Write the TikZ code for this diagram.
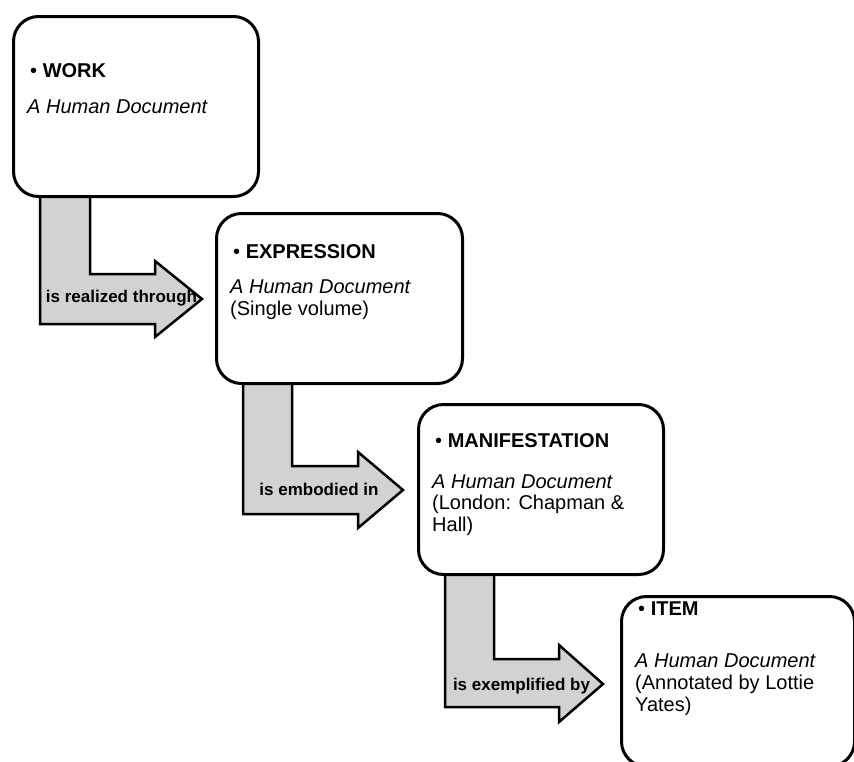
\documentclass[tikz,border=0pt]{standalone}
\usepackage{fontspec}
\setmainfont{Liberation Sans}
\definecolor{arrgray}{RGB}{210,210,210}
\begin{document}
\begin{tikzpicture}[x=1pt,y=-1pt,
  box/.style={draw=black, line width=3pt, fill=white, rounded corners=25pt,
    inner sep=0pt, anchor=north west},
  arr/.style={draw=black, line width=2.5pt, fill=arrgray, line join=miter},
  headtxt/.style={font=\fontsize{20}{23}\selectfont\bfseries, anchor=base west, inner sep=0pt},
  bodytxt/.style={font=\fontsize{20}{23}\selectfont, anchor=base west, inner sep=0pt},
  lbl/.style={font=\fontsize{17}{20}\selectfont\bfseries, anchor=base, inner sep=0pt}
]
\useasboundingbox (0,0) rectangle (854,761);
\clip (0,0) rectangle (854,761);

% tips of the bent arrows
\coordinate (t1) at (202,299);
\coordinate (t2) at (403,490);
\coordinate (t3) at (603,684);

% bent arrows (drawn first, boxes cover the stem tops)
\draw[arr] (40,185) -- (40,324) -- (155,324) -- (155,337) -- (t1)
  -- (155,261) -- (155,274) -- (90,274) -- (90,185) -- cycle;
\draw[arr] (243,372) -- (243,514) -- (358,514) -- (358,528) -- (t2)
  -- (358,452) -- (358,466) -- (292,466) -- (292,372) -- cycle;
\draw[arr] (445,563) -- (445,707) -- (559,707) -- (559,722) -- (t3)
  -- (559,645) -- (559,659) -- (494,659) -- (494,563) -- cycle;

% boxes
\node[box, minimum width=245pt, minimum height=180pt] (work) at (12,15) {};
\node[box, minimum width=246pt, minimum height=170pt] (expr) at (215,212) {};
\node[box, minimum width=245pt, minimum height=170pt] (mani) at (417,403) {};
\node[box, minimum width=233pt, minimum height=170pt] (item) at (620,595) {};

% arrow labels
\node[lbl] (l1) at (121.5,302) {is realized through};
\node[lbl] (l2) at (319,495) {is embodied in};
\node[lbl] (l3) at (521.5,690) {is exemplified by};

% WORK
\node[headtxt] (w1) at (30,77) {{\mdseries •} WORK};
\node[bodytxt] (w2) at (27,113) {\itshape A Human Document};
% EXPRESSION
\node[headtxt] (e1) at (233,258) {{\mdseries •} EXPRESSION};
\node[bodytxt] (e2) at (230,293) {\itshape A Human Document};
\node[bodytxt] (e3) at (230,315) {(Single volume)};
% MANIFESTATION
\node[headtxt] (m1) at (435,447) {{\mdseries •} MANIFESTATION};
\node[bodytxt] (m2) at (432,488) {\itshape A Human Document};
\node[bodytxt] (m3) at (432,509.5) {(London: Chapman \&};
\node[bodytxt] (m4) at (432,531) {Hall)};
% ITEM
\node[headtxt] (i1) at (638,615) {{\mdseries •} ITEM};
\node[bodytxt] (i2) at (635,667) {\itshape A Human Document};
\node[bodytxt] (i3) at (635,689) {(Annotated by Lottie};
\node[bodytxt] (i4) at (635,711) {Yates)};
\end{tikzpicture}
\end{document}
